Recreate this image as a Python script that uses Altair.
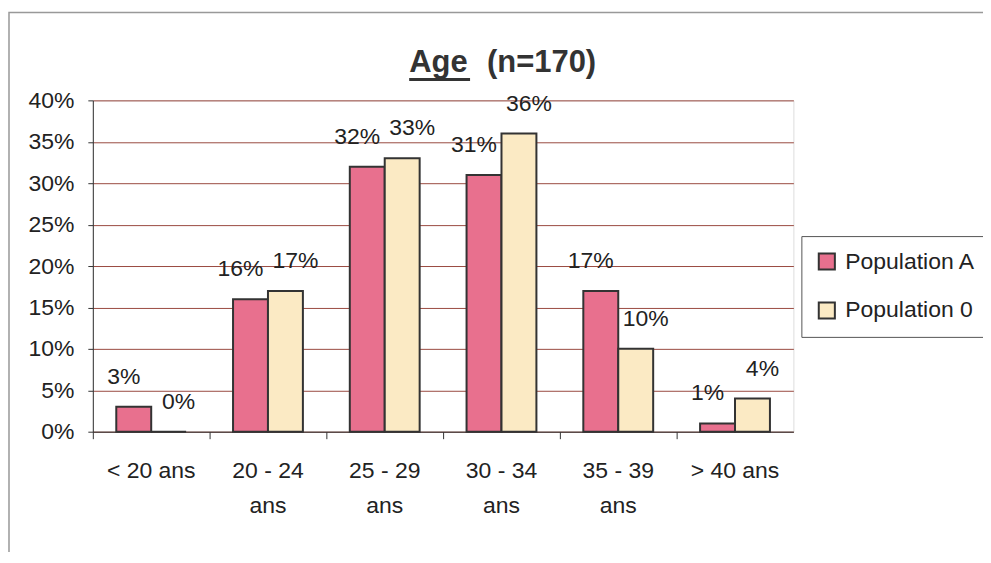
import altair as alt
import pandas as pd

categories = ["< 20 ans", "20 - 24 ans", "25 - 29 ans", "30 - 34 ans", "35 - 39 ans", "> 40 ans"]
series = ["Population A", "Population 0"]
pop_a = [3, 16, 32, 31, 17, 1]
pop_0 = [0, 17, 33, 36, 10, 4]
colors = ["#E8708E", "#FBEAC4"]

rows = []
for i, c in enumerate(categories):
    rows.append({"cat": c, "series": series[0], "value": pop_a[i] / 100})
    rows.append({"cat": c, "series": series[1], "value": pop_0[i] / 100})
df = pd.DataFrame(rows)

FONT = "Liberation Sans"
FS = 23
W, H = 702, 332
step = W / len(categories)
bar_w = 35
pad_outer = (step - 2 * bar_w) / 2 / bar_w

x_enc = alt.X(
    "cat:N", sort=categories, title=None,
    scale=alt.Scale(paddingInner=0, paddingOuter=0),
    axis=alt.Axis(
        bandPosition=0, labelAngle=0, tickSize=7,
        labelPadding=21, labelFontSize=FS, labelFont=FONT, labelColor="#222",
        domainColor="#333", tickColor="#333", labelLineHeight=35,
        labelExpr="indexof(datum.label, ' - ') >= 0 ? [replace(datum.label, ' ans', ''), 'ans'] : datum.label",
    ),
)
xoff = alt.XOffset("series:N", sort=series,
                   scale=alt.Scale(paddingInner=0, paddingOuter=pad_outer))
y_enc = alt.Y(
    "value:Q", title=None,
    scale=alt.Scale(domain=[0, 0.4], nice=False),
    axis=alt.Axis(
        values=[i * 0.05 for i in range(9)], format=".0%", tickSize=5,
        labelPadding=14, labelFontSize=FS, labelFont=FONT, labelColor="#222",
        domainColor="#333", tickColor="#333",
        grid=True, gridColor="#9A4A40", gridWidth=1,
    ),
)

bars = alt.Chart(df).mark_bar(stroke="#333", strokeWidth=2).encode(
    x=x_enc, xOffset=xoff, y=y_enc,
    color=alt.Color("series:N", sort=series,
                    scale=alt.Scale(domain=series, range=colors),
                    legend=alt.Legend(
                        title=None, orient="none", legendX=710, legendY=136,
                        symbolType="square", symbolSize=260, symbolStrokeColor="#333",
                        symbolStrokeWidth=2, labelFontSize=FS, labelFont=FONT,
                        labelColor="#222", rowPadding=24, padding=14,
                        strokeColor="#555", fillColor="white", labelOffset=7,
                    )),
)


def label_layer(name, dx):
    return alt.Chart(df).transform_filter(
        alt.datum.series == name
    ).mark_text(
        fontSize=FS, font=FONT, color="#222", baseline="middle", dy=-30, dx=dx
    ).encode(
        x=alt.X("cat:N", sort=categories),
        xOffset=alt.XOffset("series:N", sort=series),
        y="value:Q",
        text=alt.Text("value:Q", format=".0%"),
    )


labels_a = label_layer(series[0], -10)
labels_0 = label_layer(series[1], 10)

title_a = alt.Chart(pd.DataFrame({"t": ["Age"]})).mark_text(
    fontSize=31, font=FONT, fontWeight="bold", color="#333", align="left", baseline="alphabetic"
).encode(x=alt.value(317), y=alt.value(-28), text="t:N")
title_b = alt.Chart(pd.DataFrame({"t": ["(n=170)"]})).mark_text(
    fontSize=31, font=FONT, fontWeight="bold", color="#333", align="left", baseline="alphabetic"
).encode(x=alt.value(395), y=alt.value(-28), text="t:N")
underline = alt.Chart(pd.DataFrame({"t": [1]})).mark_rule(color="#333", strokeWidth=3).encode(
    x=alt.value(317), x2=alt.value(378), y=alt.value(-21)
)
frame = alt.Chart(pd.DataFrame({"t": [1]})).mark_rect(
    fill=None, stroke="#999", strokeWidth=1.5
).encode(x=alt.value(-84), x2=alt.value(895), y=alt.value(-88), y2=alt.value(455))

chart = alt.layer(frame, bars, labels_a, labels_0, title_a, title_b, underline).properties(
    width=W, height=H,
    autosize=alt.AutoSizeParams(type="none"),
    padding={"left": 85, "top": 92, "right": 190, "bottom": 120},
).configure_view(stroke=None).configure(background="white")

chart.save("out.html", embed_options={"renderer": "svg", "actions": False})
